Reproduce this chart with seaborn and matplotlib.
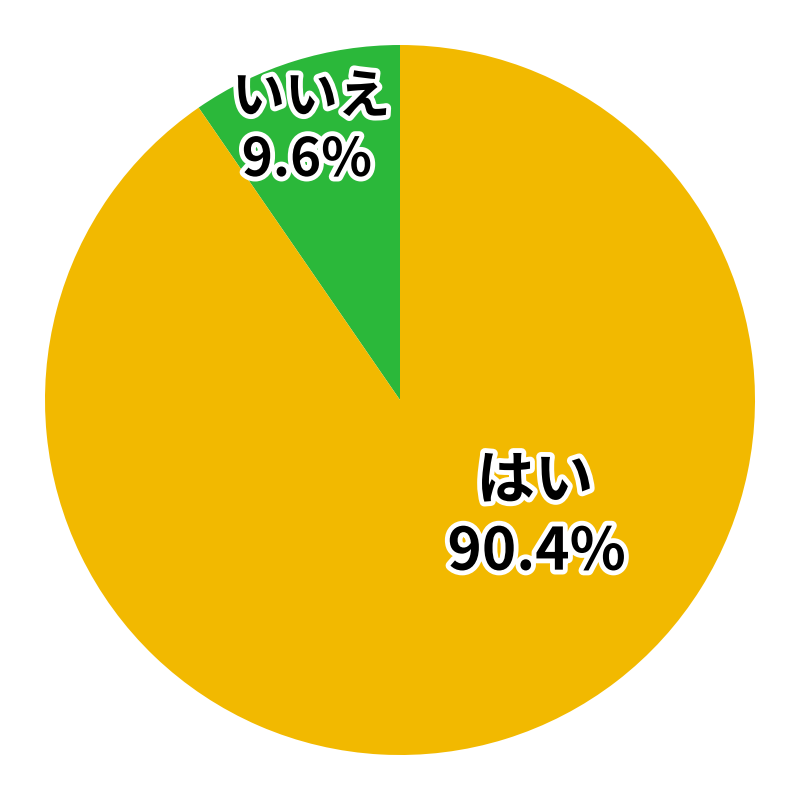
import matplotlib
matplotlib.use("Agg")
import matplotlib.pyplot as plt
import matplotlib.patheffects as pe
import seaborn as sns

sns.set_theme(style="white")
plt.rcParams['font.family'] = ['Noto Sans CJK JP', 'DejaVu Sans']

labels = ["いいえ", "はい"]
values = [9.6, 90.4]
colors = ["#2BB83A", "#F2B900"]

fig = plt.figure(figsize=(8, 8), dpi=100)
ax = fig.add_axes([0, 0, 1, 1])
ax.pie(values, colors=colors, startangle=90, counterclock=True, radius=1,
       wedgeprops=dict(linewidth=0))
lim = 400 / 355
ax.set_xlim(-lim, lim)
ax.set_ylim(-lim, lim)
ax.set_aspect("equal")
ax.axis("off")

stroke = [pe.withStroke(linewidth=7, foreground="white")]
label_pos = {"いいえ": ((-0.250, 0.852), (-0.262, 0.675), 38),
             "はい": ((0.380, -0.230), (0.385, -0.430), 42)}
for lab, val in zip(labels, values):
    (p1, p2, fs) = label_pos[lab]
    ax.text(*p1, lab, ha="center", va="center", fontsize=fs, fontweight="bold",
            color="black", path_effects=stroke)
    ax.text(*p2, f"{val:.1f}%", ha="center", va="center", fontsize=fs,
            fontweight="bold", color="black", path_effects=stroke)

fig.savefig("out.png", dpi=100, facecolor="white")
